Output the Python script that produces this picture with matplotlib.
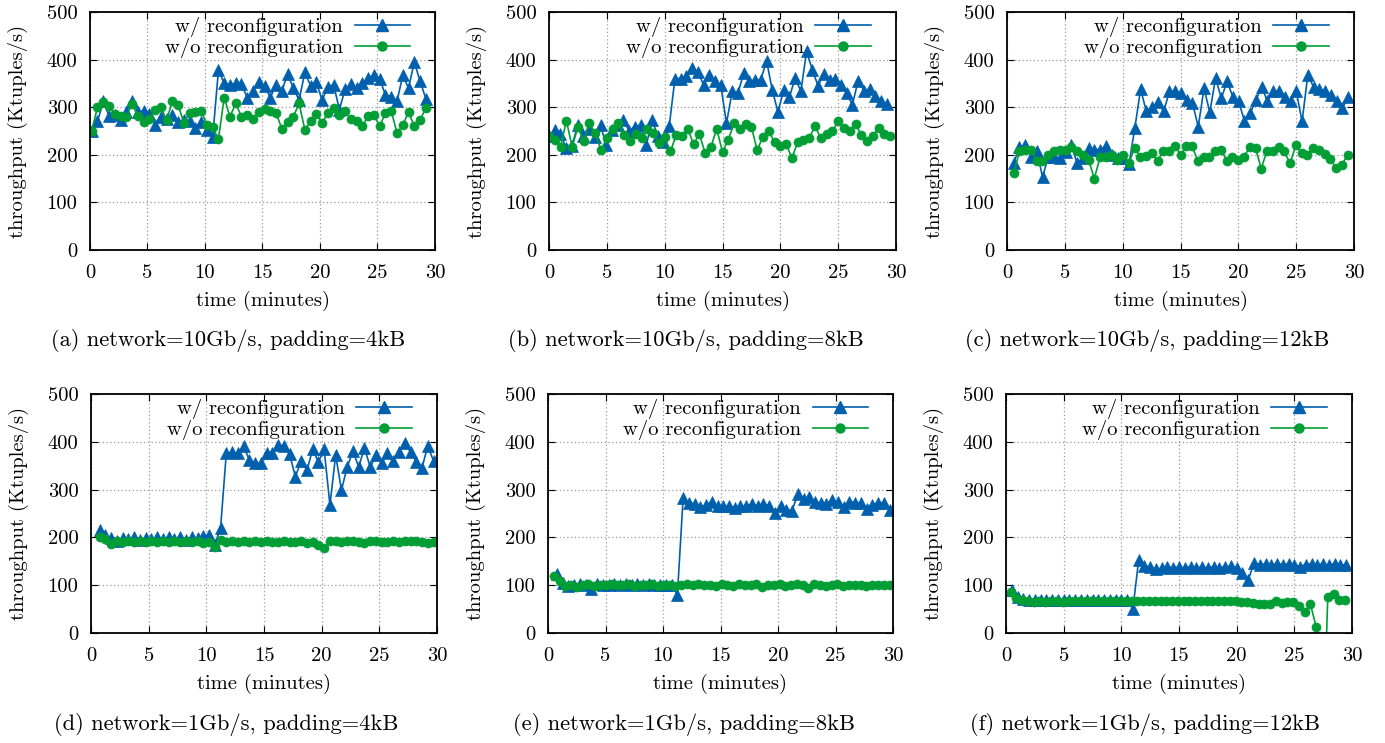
import numpy as np
import matplotlib
matplotlib.use("Agg")
import matplotlib.pyplot as plt
from matplotlib.lines import Line2D

plt.rcParams['font.family'] = ['cmr10', 'DejaVu Serif']
plt.rcParams['axes.unicode_minus'] = False
plt.rcParams['mathtext.fontset'] = 'cm'

BLUE = '#0060ad'
GREEN = '#009e35'

captions = [
    "(a) network=10Gb/s, padding=4kB",
    "(b) network=10Gb/s, padding=8kB",
    "(c) network=10Gb/s, padding=12kB",
    "(d) network=1Gb/s, padding=4kB",
    "(e) network=1Gb/s, padding=8kB",
    "(f) network=1Gb/s, padding=12kB",
]
legend_labels = ["w/ reconfiguration", "w/o reconfiguration"]
x_ticks = [0, 5, 10, 15, 20, 25, 30]
y_ticks = [0, 100, 200, 300, 400, 500]

# time ranges (start, end) of each series, minutes
a_t_w = (0.15, 29.2)
a_t_wo = (0.15, 29.2)
a_w = [250, 270, 312, 282, 283, 273, 290, 313, 290, 292, 285, 263, 280, 275, 283,
       268, 273, 272, 257, 268, 253, 237, 378, 350, 347, 350, 348, 320, 335, 352,
       345, 320, 347, 333, 370, 340, 315, 373, 345, 352, 315, 342, 347, 295, 338,
       348, 340, 350, 362, 367, 360, 325, 322, 312, 367, 340, 395, 355, 318]
a_wo = [250, 300, 310, 303, 285, 282, 280, 307, 282, 268, 275, 295, 300, 273, 312,
        305, 267, 288, 290, 292, 263, 258, 233, 320, 280, 308, 280, 283, 276, 290,
        297, 292, 288, 255, 268, 280, 308, 253, 270, 285, 267, 288, 298, 283, 292,
        275, 270, 260, 282, 283, 260, 288, 292, 246, 262, 290, 260, 273, 298]

b_t_w = (0.0, 29.2)
b_t_wo = (0.0, 29.5)
b_w = [240, 252, 244, 215, 218, 262, 240, 255, 237, 262, 220, 252, 262, 273, 250,
       259, 262, 220, 273, 240, 227, 260, 360, 360, 365, 383, 374, 347, 368, 354,
       347, 266, 333, 329, 371, 355, 357, 357, 398, 336, 290, 336, 321, 362, 333,
       418, 378, 345, 370, 357, 360, 347, 330, 305, 356, 335, 338, 324, 312, 307]
b_wo = [240, 232, 216, 272, 217, 258, 228, 266, 245, 210, 235, 254, 267, 242, 228,
        244, 236, 254, 245, 225, 237, 207, 242, 240, 255, 222, 244, 203, 217, 254,
        206, 232, 266, 254, 265, 258, 210, 238, 251, 226, 219, 223, 193, 226, 232,
        235, 260, 235, 243, 249, 271, 256, 251, 265, 242, 228, 240, 256, 244, 240]

c_t_w = (0.58, 29.5)
c_t_wo = (0.58, 29.45)
c_w = [183, 216, 220, 196, 209, 153, 196, 196, 193, 205, 221, 182, 193, 214, 211,
       211, 218, 200, 193, 193, 181, 256, 338, 291, 300, 310, 291, 333, 333, 329,
       315, 308, 259, 340, 289, 361, 319, 354, 322, 312, 272, 287, 315, 343, 312,
       334, 334, 322, 312, 333, 270, 368, 342, 338, 335, 326, 312, 298, 322]
c_wo = [162, 207, 210, 210, 188, 188, 200, 207, 210, 210, 216, 207, 200, 190, 150,
        195, 195, 200, 189, 200, 183, 214, 196, 197, 203, 187, 209, 209, 219, 200,
        218, 218, 186, 195, 195, 207, 211, 188, 196, 189, 196, 216, 214, 171, 209,
        209, 216, 207, 182, 220, 203, 200, 214, 211, 201, 191, 172, 179, 200]

d_t_w = (0.75, 29.7)
d_t_wo = (0.75, 29.7)
d_w = [215, 205, 198, 192, 198, 196, 200, 195, 198, 196, 200, 197, 201, 196, 200,
       195, 200, 198, 203, 205, 185, 219, 376, 378, 376, 391, 362, 356, 355, 376,
       376, 393, 391, 374, 327, 360, 340, 384, 358, 384, 268, 372, 299, 347, 381,
       347, 388, 347, 372, 355, 377, 360, 379, 397, 379, 358, 346, 391, 360]
d_wo = [200, 196, 186, 192, 190, 192, 190, 193, 191, 192, 190, 192, 191, 193, 190,
        192, 190, 192, 188, 190, 180, 195, 190, 192, 191, 193, 191, 192, 190, 192,
        191, 190, 192, 190, 191, 192, 189, 191, 185, 178, 193, 192, 190, 193, 192,
        190, 188, 192, 193, 190, 191, 192, 190, 193, 192, 192, 190, 188, 191]

e_t_w = (0.78, 29.7)
e_t_wo = (0.5, 29.7)
e_w = [124, 105, 99, 101, 103, 101, 92, 102, 100, 101, 103, 100, 102, 101, 103,
       100, 102, 100, 101, 100, 101, 80, 282, 273, 270, 263, 268, 275, 266, 265,
       266, 262, 265, 266, 270, 265, 270, 266, 251, 266, 258, 256, 291, 281, 284,
       274, 272, 270, 279, 275, 263, 275, 273, 272, 259, 268, 273, 272, 258]
e_wo = [120, 108, 98, 101, 97, 100, 102, 98, 101, 100, 102, 101, 100, 103, 99,
        101, 100, 102, 99, 101, 100, 99, 101, 103, 101, 102, 100, 101, 99, 102,
        101, 98, 102, 101, 100, 102, 97, 101, 100, 102, 99, 101, 103, 100, 95,
        102, 101, 99, 101, 103, 99, 101, 100, 101, 99, 101, 101, 100, 101]

f_t_w = (0.5, 29.5)
f_t_wo = (0.4, 29.4)
f_w = [90, 76, 72, 70, 69, 70, 69, 70, 70, 69, 70, 70, 70, 69, 70,
       70, 70, 70, 70, 69, 70, 50, 152, 140, 138, 134, 135, 139, 136, 138,
       135, 139, 137, 138, 136, 139, 137, 138, 140, 137, 126, 111, 146, 143, 144,
       142, 145, 143, 144, 142, 139, 143, 145, 143, 144, 142, 145, 143, 142]
f_wo = [85, 74, 70, 67, 65, 67, 65, 66, 67, 65, 67, 66, 67, 66, 67,
        67, 66, 67, 67, 66, 67, 66, 67, 67, 66, 67, 67, 66, 67, 67,
        66, 67, 67, 67, 66, 67, 67, 66, 67, 66, 65, 64, 62, 61, 60,
        61, 66, 63, 64, 64, 57, 44, 60, 12, -300, 75, 82, 70, 69]

panels = [
    (a_t_w, a_w, a_t_wo, a_wo),
    (b_t_w, b_w, b_t_wo, b_wo),
    (c_t_w, c_w, c_t_wo, c_wo),
    (d_t_w, d_w, d_t_wo, d_wo),
    (e_t_w, e_w, e_t_wo, e_wo),
    (f_t_w, f_w, f_t_wo, f_wo),
]

W, H = 1385, 743
fig = plt.figure(figsize=(W / 100, H / 100), dpi=100)

# axes boxes in pixels: left, top, right, bottom
boxes = [
    (90, 12, 435, 250),
    (549, 12, 896, 250),
    (1007, 12, 1354, 250),
    (91, 394, 437, 633),
    (548, 394, 893, 633),
    (1006, 394, 1352, 633),
]
caption_x = [228, 686, 1147, 226, 684, 1145]

FS = 14.8
CFS = 16.2
for i, ((tw, vw, two, vwo), box, cap, cx) in enumerate(zip(panels, boxes, captions, caption_x)):
    l, t, r, b = box
    ax = fig.add_axes([l / W, 1 - b / H, (r - l) / W, (b - t) / H])
    xw = np.linspace(tw[0], tw[1], len(vw))
    xwo = np.linspace(two[0], two[1], len(vwo))
    ax.plot(xw, vw, color=BLUE, lw=1.2, marker='^', ms=8, mec=BLUE, mfc=BLUE, mew=0.5)
    ax.plot(xwo, vwo, color=GREEN, lw=1.2, marker='o', ms=6.5, mec=GREEN, mfc=GREEN, mew=0.5)
    ax.set_xlim(0, 30)
    ax.set_ylim(0, 500)
    ax.set_xticks(x_ticks)
    ax.set_yticks(y_ticks)
    ax.tick_params(direction='in', length=5, width=0.8, top=True, right=True,
                   labelsize=FS)
    ax.tick_params(axis='x', pad=10)
    ax.tick_params(axis='y', pad=9)
    ax.grid(True, linestyle=(0, (1, 2)), color='#9a9a9a', lw=0.9)
    for sp in ax.spines.values():
        sp.set_linewidth(1.3)
    handles = [Line2D([], [], color=BLUE, lw=1.2, marker='^', ms=8, mec=BLUE),
               Line2D([], [], color=GREEN, lw=1.2, marker='o', ms=6.5, mec=GREEN)]
    leg = ax.legend(handles, legend_labels, loc='upper right', frameon=False,
                    markerfirst=False, fontsize=FS, handlelength=2.7, handletextpad=0.55,
                    labelspacing=0.06, borderpad=0, borderaxespad=0,
                    bbox_to_anchor=((410 - 90) / 345, 1 - 5 / 238), numpoints=1)
    for txt in leg.get_texts():
        txt.set_ha('right')
    cy = (t + b) / 2
    fig.text((l - 72) / W, 1 - cy / H, "throughput (Ktuples/s)", rotation=90,
             ha='center', va='center', fontsize=FS)
    fig.text(((l + r) / 2) / W, 1 - (b + 51) / H, "time (minutes)", ha='center',
             va='center', fontsize=FS)
    fig.text(cx / W, 1 - (b + 91) / H, cap, ha='center', va='center', fontsize=CFS)

fig.savefig("out.png", dpi=100)
